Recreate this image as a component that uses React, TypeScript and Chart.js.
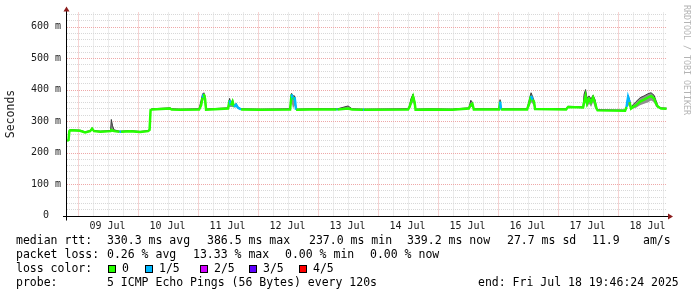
import React, { useEffect, useRef } from 'react';
import { Chart, registerables } from 'chart.js';

Chart.register(...registerables);

// hours since Jul 8 00:00
const hours = [
  19.77, 20.4, 20.7, 21.0, 25.0, 27.0, 29.0, 29.8, 30.6, 33.1, 37.2, 37.5, 38.0, 38.6, 40.8, 41.4, 45.0, 49.0, 52.2, 52.8,
  53.2, 53.8, 61.0, 61.6, 65.0, 72.6, 73.4, 74.0, 74.5, 75.0, 75.4, 77.0, 84.2, 84.8, 85.4, 86.0, 86.6, 87.4, 88.2, 89.4,
  97.0, 109.0, 109.6, 110.2, 110.8, 111.4, 117.0, 127.6, 128.0, 132.2, 133.8, 138.2, 138.6, 156.2, 156.8, 157.4, 158.2, 158.8, 159.2, 165.0,
  173.8, 180.5, 181.3, 181.9, 182.5, 192.6, 193.0, 193.4, 203.8, 204.6, 205.4, 206.0, 206.6, 207.0, 219.4, 220.2, 226.2, 226.6, 227.2, 227.8,
  228.6, 229.4, 230.2, 231.0, 231.6, 232.0, 243.0, 243.6, 244.2, 244.8, 245.4, 246.2, 247.4, 249.0, 250.6, 252.2, 253.4, 254.6, 255.4, 256.2,
  257.4, 259.6,
];
// median rtt in ms
const median = [
  237, 240, 268, 271, 269, 264, 268, 276, 268, 266, 268, 272, 270, 268, 266, 266, 268, 265, 268, 272,
  335, 337, 340, 337, 336, 337, 350, 375, 386, 370, 336, 337, 340, 366, 350, 362, 345, 352, 342, 337,
  336, 337, 385, 368, 376, 336, 337, 337, 337, 340, 337, 336, 336, 337, 345, 360, 378, 360, 336, 337,
  336, 340, 352, 355, 337, 337, 362, 337, 337, 355, 380, 368, 360, 338, 337, 345, 343, 360, 380, 355,
  370, 360, 375, 358, 340, 334, 333, 345, 376, 360, 340, 345, 350, 362, 368, 375, 380, 372, 355, 345,
  340, 339,
];
const smokeLow = [
  236, 239, 266, 269, 267, 262, 266, 272, 266, 264, 266, 266, 266, 266, 264, 264, 266, 263, 266, 270,
  333, 335, 338, 335, 334, 335, 345, 360, 370, 345, 334, 335, 338, 345, 345, 345, 343, 345, 340, 335,
  334, 335, 360, 340, 350, 334, 335, 335, 335, 337, 335, 334, 334, 335, 340, 350, 360, 345, 334, 335,
  334, 338, 345, 345, 335, 335, 340, 335, 335, 345, 360, 355, 345, 336, 335, 343, 341, 345, 360, 345,
  355, 345, 360, 340, 338, 332, 331, 343, 350, 345, 338, 340, 342, 350, 355, 360, 365, 360, 345, 343,
  338, 337,
];
const smokeHigh = [
  238, 241, 270, 273, 271, 266, 270, 279, 270, 268, 270, 305, 285, 272, 268, 268, 270, 267, 270, 274,
  337, 339, 342, 339, 338, 339, 365, 386, 390, 380, 338, 339, 342, 372, 355, 368, 348, 356, 344, 339,
  338, 339, 388, 380, 380, 338, 339, 339, 339, 348, 339, 338, 338, 339, 350, 372, 386, 365, 338, 339,
  338, 342, 366, 360, 339, 339, 368, 339, 339, 365, 390, 378, 365, 340, 339, 347, 345, 385, 400, 372,
  380, 370, 382, 368, 342, 336, 335, 347, 382, 368, 342, 352, 362, 374, 380, 387, 390, 382, 365, 347,
  342, 341,
];
// loss level (0..4 of 5 pings) applied to the segment starting at each point
const lossLevel = [
  0, 0, 0, 0, 0, 0, 0, 0, 0, 0, 0, 0, 0, 0, 1, 0, 0, 0, 0, 0,
  0, 0, 0, 0, 0, 0, 0, 1, 0, 0, 0, 0, 0, 1, 0, 0, 1, 1, 1, 0,
  0, 0, 1, 0, 1, 0, 0, 1, 0, 0, 0, 1, 0, 0, 0, 0, 0, 0, 0, 0,
  0, 0, 0, 0, 0, 0, 1, 0, 0, 0, 1, 0, 0, 0, 0, 0, 0, 0, 0, 0,
  0, 0, 0, 0, 0, 0, 0, 1, 1, 0, 0, 0, 0, 0, 0, 0, 0, 0, 0, 0,
  0, 0,
];

const lossColors = ['#26ff00', '#00b8ff', '#d200ff', '#5e00ff', '#ff0000'];
const lossLabels = ['0', '1/5', '2/5', '3/5', '4/5'];

const dayLabels = ['09 Jul', '10 Jul', '11 Jul', '12 Jul', '13 Jul', '14 Jul', '15 Jul', '16 Jul', '17 Jul', '18 Jul'];
const dayNoonHours = [36, 60, 84, 108, 132, 156, 180, 204, 228, 252];
const midnightHours = [24, 48, 72, 96, 120, 144, 168, 192, 216, 240];
const sixHourMinor = [
  30, 36, 42, 54, 60, 66, 78, 84, 90, 102, 108, 114, 126, 132, 138, 150, 156, 162,
  174, 180, 186, 198, 204, 210, 222, 228, 234, 246, 252, 258,
];
const yMajorTicks = [0, 100, 200, 300, 400, 500, 600];
const yTickLabels = ['0', '100 m', '200 m', '300 m', '400 m', '500 m', '600 m'];
const yMinorTicks = [
  20, 40, 60, 80, 120, 140, 160, 180, 220, 240, 260, 280, 320, 340, 360, 380,
  420, 440, 460, 480, 520, 540, 560, 580, 620, 640,
];

const xMin = 19.77;
const xMax = 259.77;
const yMax = 645;

const statRow1 = ['median rtt:', '330.3 ms avg', '386.5 ms max', '237.0 ms min', '339.2 ms now', '27.7 ms sd', '11.9', 'am/s'];
const statRow2 = ['packet loss:', '0.26 % avg', '13.33 % max', '0.00 % min', '0.00 % now'];
const lossRowTitle = 'loss color:';
const probeRow = ['probe:', '5 ICMP Echo Pings (56 Bytes) every 120s', 'end: Fri Jul 18 19:46:24 2025'];
const yAxisTitle = 'Seconds';
const watermark = 'RRDTOOL / TOBI OETIKER';

const MONO = '"DejaVu Sans Mono", monospace';

const framePlugin = {
  id: 'rrdFrame',
  beforeDraw(chart: any) {
    const { ctx } = chart;
    ctx.save();
    ctx.fillStyle = '#ffffff';
    ctx.fillRect(0, 0, chart.width, chart.height);
    ctx.restore();
  },
  beforeDatasetsDraw(chart: any) {
    const { ctx, chartArea: a, scales } = chart;
    const xs = scales.x;
    const ys = scales.y;
    ctx.save();
    ctx.lineWidth = 1;
    ctx.setLineDash([1, 1]);
    // minor grid
    ctx.strokeStyle = '#d8d8d8';
    ctx.beginPath();
    yMinorTicks.forEach((v) => {
      const py = Math.round(ys.getPixelForValue(v)) + 0.5;
      ctx.moveTo(a.left, py);
      ctx.lineTo(a.right, py);
    });
    sixHourMinor.forEach((h) => {
      const px = Math.round(xs.getPixelForValue(h)) + 0.5;
      ctx.moveTo(px, a.bottom);
      ctx.lineTo(px, a.top);
    });
    ctx.stroke();
    // major grid
    ctx.strokeStyle = '#eea8a8';
    ctx.beginPath();
    yMajorTicks.forEach((v) => {
      if (v === 0) return;
      const py = Math.round(ys.getPixelForValue(v)) + 0.5;
      ctx.moveTo(a.left, py);
      ctx.lineTo(a.right, py);
    });
    midnightHours.forEach((h) => {
      const px = Math.round(xs.getPixelForValue(h)) + 0.5;
      ctx.moveTo(px, a.bottom);
      ctx.lineTo(px, a.top);
    });
    ctx.stroke();
    ctx.restore();
  },
  afterDatasetsDraw(chart: any) {
    const { ctx, chartArea: a, scales } = chart;
    const xs = scales.x;
    const ys = scales.y;
    ctx.save();
    ctx.setLineDash([]);
    // axes
    const axY = Math.round(ys.getPixelForValue(0)) + 0.5;
    const axX = a.left - 0.5;
    ctx.strokeStyle = '#000000';
    ctx.lineWidth = 1;
    ctx.beginPath();
    ctx.moveTo(a.left - 4, axY);
    ctx.lineTo(a.right + 2, axY);
    ctx.moveTo(axX, axY + 4);
    ctx.lineTo(axX, a.top - 3);
    ctx.stroke();
    // arrows
    ctx.fillStyle = '#8b1c1c';
    ctx.beginPath();
    ctx.moveTo(axX, a.top - 6);
    ctx.lineTo(axX - 3, a.top - 1);
    ctx.lineTo(axX + 3, a.top - 1);
    ctx.closePath();
    ctx.fill();
    ctx.beginPath();
    ctx.moveTo(a.right + 6, axY);
    ctx.lineTo(a.right + 1, axY - 3);
    ctx.lineTo(a.right + 1, axY + 3);
    ctx.closePath();
    ctx.fill();

    // tick labels
    ctx.fillStyle = '#1a1a1a';
    ctx.font = `10px ${MONO}`;
    ctx.textAlign = 'center';
    ctx.textBaseline = 'middle';
    yMajorTicks.forEach((v, i) => {
      ctx.fillText(yTickLabels[i], 46, ys.getPixelForValue(v));
    });
    dayNoonHours.forEach((h, i) => {
      ctx.fillText(dayLabels[i], xs.getPixelForValue(h), axY + 10);
    });

    // y title
    ctx.save();
    ctx.font = `11.5px ${MONO}`;
    ctx.translate(11, 114);
    ctx.rotate(-Math.PI / 2);
    ctx.fillText(yAxisTitle, 0, 0);
    ctx.restore();

    // watermark
    ctx.save();
    ctx.font = `8.3px ${MONO}`;
    ctx.fillStyle = '#b4b4b4';
    ctx.textAlign = 'left';
    ctx.translate(686.5, 5);
    ctx.rotate(Math.PI / 2);
    ctx.fillText(watermark, 0, 0);
    ctx.restore();

    // legend
    ctx.font = `11.5px ${MONO}`;
    ctx.fillStyle = '#000000';
    ctx.textAlign = 'left';
    const r1x = [16, 107, 207, 309, 407, 507, 592, 643];
    statRow1.forEach((t, i) => ctx.fillText(t, r1x[i], 241));
    const r2x = [16, 107, 193, 285, 370];
    statRow2.forEach((t, i) => ctx.fillText(t, r2x[i], 255));
    ctx.fillText(lossRowTitle, 16, 269);
    const boxX = [108, 145, 200, 249, 299];
    lossLabels.forEach((t, i) => {
      ctx.fillStyle = lossColors[i];
      ctx.fillRect(boxX[i], 265, 8, 8);
      ctx.strokeStyle = '#000';
      ctx.lineWidth = 1;
      ctx.strokeRect(boxX[i] + 0.5, 265.5, 7, 7);
      ctx.fillStyle = '#000';
      ctx.fillText(t, boxX[i] + 14, 269);
    });
    const r4x = [16, 107, 478];
    probeRow.forEach((t, i) => ctx.fillText(t, r4x[i], 283));
    ctx.restore();
  },
};

export default function App() {
  const ref = useRef<HTMLCanvasElement | null>(null);
  useEffect(() => {
    if (!ref.current) return;
    const pts = (arr: number[]) => hours.map((h, i) => ({ x: h, y: arr[i] }));
    const chart = new Chart(ref.current, {
      type: 'line',
      data: {
        datasets: [
          {
            label: 'median',
            data: pts(median),
            borderWidth: 2.5,
            borderColor: lossColors[0],
            pointRadius: 0,
            tension: 0,
            fill: false,
            segment: {
              borderColor: (c: any) => lossColors[lossLevel[c.p0DataIndex]],
            },
          },
          {
            label: 'smokeHigh',
            data: pts(smokeHigh),
            borderWidth: 1,
            borderColor: '#3a3a3a',
            backgroundColor: '#8f8f8f',
            pointRadius: 0,
            tension: 0,
            fill: '+1',
          },
          {
            label: 'smokeLow',
            data: pts(smokeLow),
            borderWidth: 0,
            borderColor: 'rgba(0,0,0,0)',
            pointRadius: 0,
            tension: 0,
            fill: false,
          },
        ],
      },
      options: {
        animation: false,
        responsive: false,
        devicePixelRatio: 1,
        layout: { padding: { left: 67, right: 30, top: 12.5, bottom: 81.5 } },
        plugins: { legend: { display: false }, tooltip: { enabled: false } },
        scales: {
          x: { type: 'linear', min: xMin, max: xMax, display: false },
          y: { type: 'linear', min: 0, max: yMax, display: false },
        },
      },
      plugins: [framePlugin],
    });
    return () => chart.destroy();
  }, []);
  return (
    <canvas
      ref={ref}
      width={697}
      height={297}
      style={{ position: 'absolute', left: 0, top: 0, display: 'block' }}
    />
  );
}
